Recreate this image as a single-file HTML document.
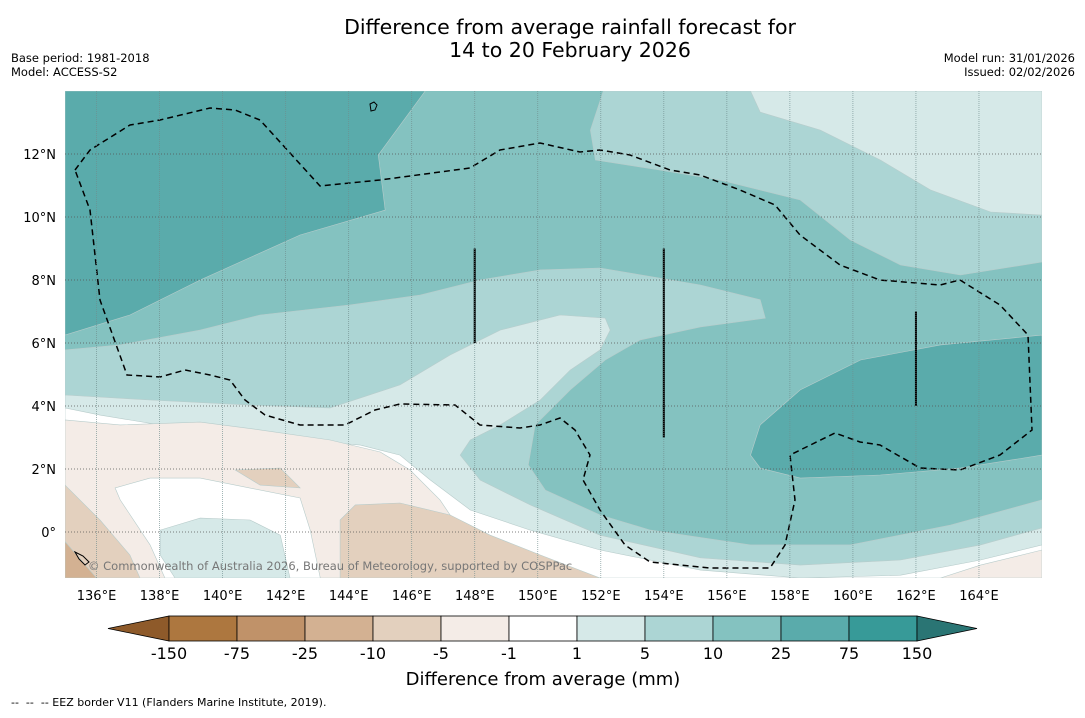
<!DOCTYPE html>
<html><head><meta charset="utf-8">
<style>
body{margin:0;background:#fff;width:1085px;height:713px;overflow:hidden;font-family:"Liberation Sans","DejaVu Sans",sans-serif}
svg text{font-family:"DejaVu Sans","Liberation Sans",sans-serif}
</style></head>
<body>
<svg id="chart" width="1085" height="713" viewBox="0 0 1085 713" xmlns="http://www.w3.org/2000/svg">
<text x="570" y="34" font-size="20.5" text-anchor="middle">Difference from average rainfall forecast for</text>
<text x="570" y="57" font-size="20.5" text-anchor="middle">14 to 20 February 2026</text>
<text x="11" y="62" font-size="11.5">Base period: 1981-2018</text>
<text x="11" y="76" font-size="11.5">Model: ACCESS-S2</text>
<text x="1075" y="62" font-size="11.5" text-anchor="end">Model run: 31/01/2026</text>
<text x="1075" y="76" font-size="11.5" text-anchor="end">Issued: 02/02/2026</text>
<defs><clipPath id="mapclip"><rect x="65" y="91" width="977" height="487"/></clipPath></defs>
<g id="fills" clip-path="url(#mapclip)"></g>
<g id="overlay" clip-path="url(#mapclip)">
<path fill="none" stroke="#000" stroke-width="1.5" stroke-dasharray="6,4"
d="M75,170 L90,150 L130,125 L160,120 L210,108 L235,110 L260,120 L320,186 L380,180 L470,168 L475,165 L500,150 L540,143 L580,152 L600,150 L630,155 L670,170 L700,175 L740,190 L775,205 L800,235 L840,265 L880,280 L940,285 L960,280 L1000,305 L1028,335 L1032,430 L1000,455 L960,470 L920,468 L880,445 L860,442 L835,433 L790,455 L795,500 L785,545 L770,568 L710,568 L650,562 L625,545 L600,510 L583,480 L590,455 L575,430 L560,418 L540,425 L520,428 L480,425 L455,405 L400,404 L375,410 L345,425 L300,425 L265,415 L245,400 L230,380 L210,375 L185,370 L160,377 L127,375 L100,300 L90,210 Z"/>
<path d="M370,104 l4,-2 l3,3 l-2,5 l-4,1 z" fill="none" stroke="#000" stroke-width="1"/>
<path d="M75,552 l8,4 l6,6 l-4,3 l-6,-6 z" fill="none" stroke="#000" stroke-width="1"/>
<text x="88" y="570" font-size="11.5" fill="#777">© Commonwealth of Australia 2026, Bureau of Meteorology, supported by COSPPac</text>
</g>
<g id="grid"></g>
<g id="axes"></g>
<g id="colorbar"></g>
<text x="543" y="685" font-size="18" text-anchor="middle">Difference from average (mm)</text>
<text x="11" y="706" font-size="11" xml:space="preserve" style="white-space:pre">--  --  -- EEZ border V11 (Flanders Marine Institute, 2019).</text>
</svg>
<script>
const lonTicks=[136,138,140,142,144,146,148,150,152,154,156,158,160,162,164];
const latTicks=[0,2,4,6,8,10,12];
const cbLevels=["-150","-75","-25","-10","-5","-1","1","5","10","25","75","150"];
const cbColors=["#ad773f","#c09269","#d3b192","#e3d0be","#f4ece7","#ffffff","#d6e9e8","#acd5d4","#84c2c0","#5aabab","#379a98"];
const cbExtLow="#8e5a2a", cbExtHigh="#2a7574";
const regionBase=[[135,14],[166,14],[166,-1.46],[135,-1.46]];
const regionA=[[135,14],[146.43,14],[144.94,11.97],[145.16,10.22],[142.46,9.43],[139.29,8.0],[137.06,6.89],[135,6.25]];
const regionB=[[152.08,14],[166,14],[166,8.57],[163.41,8.16],[161.51,8.48],[159.92,9.27],[158.33,10.54],[155.79,11.17],[153.89,11.49],[151.83,11.81],[151.67,12.76]];
const regionC=[[156.75,14],[166,14],[166,10.06],[164.37,10.16],[162.46,10.86],[160.87,11.81],[158.97,12.76],[157.06,13.33]];
const regionD=[[135,5.78],[136.75,5.94],[139.29,6.41],[141.19,6.89],[144.05,7.21],[146.27,7.52],[148.17,8.0],[150.08,8.32],[151.98,8.38],[155.16,7.84],[157.06,7.37],[157.22,6.79],[155.16,6.51],[153.25,6.1],[152.14,5.46],[151.03,4.51],[149.92,3.4],[149.7,2.13],[150.24,1.33],[151.98,0.54],[153.57,0.06],[156.75,-0.41],[159.92,-0.41],[163.1,0.22],[166,1.02],[166,-1.46],[135,-1.46]];
const regionI=[[156.75,2.44],[157.06,3.4],[158.33,4.51],[160.24,5.46],[162.78,5.94],[166,6.25],[166,2.44],[163.41,2.03],[160.87,1.81],[158.33,1.71],[157.06,2.03]];
const regionF=[[135,4.35],[137.7,4.19],[140.87,4.03],[143.41,3.94],[145.63,4.67],[147.22,5.62],[148.81,6.41],[150.71,6.89],[152.14,6.79],[152.3,6.41],[151.98,5.78],[151.03,5.14],[150.08,4.19],[148.81,3.4],[147.86,2.92],[147.54,2.44],[148.17,1.65],[149.76,0.86],[151.98,-0.1],[155.16,-0.82],[158.33,-1.05],[161.51,-0.89],[164.05,-0.41],[166,0.13],[166,-1.46],[135,-1.46]];
const regionG=[[135,3.94],[136.11,3.71],[138.02,3.4],[140.24,3.24],[142.46,2.92],[144.37,2.76],[145.63,2.44],[146.59,1.65],[147.86,0.7],[149.76,0.06],[151.98,-0.57],[155.16,-1.21],[158.33,-1.46],[161.51,-1.37],[164.05,-0.89],[166,-0.41],[166,-1.46],[135,-1.46]];
const regionH=[[135,3.56],[136.75,3.4],[139.29,3.49],[141.19,3.24],[143.41,2.92],[145,2.54],[145.95,1.97],[146.9,1.02],[147.54,0.06],[147.86,-1.46],[135,-1.46]];
const regionWhite=[[136.59,1.4],[137.7,1.71],[139.29,1.71],[142.46,1.08],[142.78,0.06],[143.1,-1.46],[138.17,-1.46],[137.7,-0.41],[136.75,1.02]];
const regionLight=[[138.02,0.06],[139.29,0.44],[140.87,0.38],[141.83,-0.1],[142.14,-1.46],[138.49,-1.46],[138.02,-0.73]];
const regionP1=[[140.4,1.97],[141.83,2.03],[142.46,1.4],[141.19,1.49]];
const regionP2=[[143.73,0.38],[144.21,0.86],[145.63,0.92],[147.22,0.54],[148.49,-0.1],[150.08,-0.73],[151.98,-1.46],[143.73,-1.46]];
const regionBL=[[135,1.49],[136.11,0.38],[137.06,-0.73],[137.38,-1.46],[135,-1.46]];
const regionBL2=[[135,-0.3],[136.0,-1.46],[135,-1.46]];
const regionBR=[[166,-0.57],[164.05,-1.05],[162.78,-1.46],[166,-1.46]];
const regionNames=["base","top-left-wet","top-right-moist","top-right-light","central-band","east-wet-core","light-band","neutral-band","south-dry","west-neutral-patch","west-light-patch","dry-patch-1","dry-patch-2","southwest-dry","southwest-drier","southeast-dry"];
const regionList=[regionBase,regionA,regionB,regionC,regionD,regionI,regionF,regionG,regionH,regionWhite,regionLight,regionP1,regionP2,regionBL,regionBL2,regionBR];
const regionColor=[8,9,7,6,7,9,6,5,4,5,6,3,3,3,2,4];
const verticalBars=[[148,6,9],[154,3,9],[162,4,7]];

const X0=65,X1=1042,Y0=91,Y1=578,LON0=135,LON1=166,LAT0=14,LAT1=-1.46;
const px=lon=>X0+(lon-LON0)*(X1-X0)/(LON1-LON0);
const py=lat=>Y0+(LAT0-lat)*(Y1-Y0)/(LAT0-LAT1);
const NS="http://www.w3.org/2000/svg";
function mk(t,a,parent){const e=document.createElementNS(NS,t);for(const k in a)e.setAttribute(k,a[k]);parent.appendChild(e);return e;}

const fills=document.getElementById('fills');
regionList.forEach((r,i)=>{
  const p=mk('polygon',{points:r.map(c=>px(c[0]).toFixed(1)+','+py(c[1]).toFixed(1)).join(' '),fill:cbColors[regionColor[i]],stroke:i===0?'none':'#b8cccb','stroke-width':0.6},fills);
  
  
});
const ov=document.getElementById('overlay');
verticalBars.forEach(b=>{
  const l=mk('line',{x1:px(b[0]),x2:px(b[0]),y1:py(b[2]),y2:py(b[1]),stroke:'#000','stroke-width':2},ov);
  
  
});
const grid=document.getElementById('grid');
lonTicks.forEach(v=>{
  const l=mk('line',{x1:px(v),x2:px(v),y1:Y0,y2:Y1,stroke:'#6f8c8c','stroke-width':0.8,'stroke-dasharray':'1,1','stroke-opacity':0.8},grid);
  
  
});
latTicks.forEach(v=>{
  const l=mk('line',{x1:X0,x2:X1,y1:py(v),y2:py(v),stroke:'#555','stroke-width':0.8,'stroke-dasharray':'1,2'},grid);
  
  
});
const axes=document.getElementById('axes');
lonTicks.forEach(v=>{
  const t=mk('text',{x:px(v),y:600,'font-size':13,'text-anchor':'middle'},axes);
  t.textContent=v+'°E';
  
  
});
latTicks.forEach(v=>{
  const t=mk('text',{x:56,y:py(v)+5,'font-size':13,'text-anchor':'end'},axes);
  t.textContent=v===0?'0°':v+'°N';
  
  
});
const cb=document.getElementById('colorbar');
const CB0=169,CBW=68,CBY=616,CBH=25;
const lo=mk('polygon',{points:`108,${CBY+CBH/2} ${CB0},${CBY} ${CB0},${CBY+CBH}`,fill:cbExtLow,stroke:'#000','stroke-width':0.8},cb);


cbColors.forEach((c,i)=>{
  const r=mk('rect',{x:CB0+i*CBW,y:CBY,width:CBW,height:CBH,fill:c,stroke:'#000','stroke-width':0.8},cb);
  
  
});
const endX=CB0+cbColors.length*CBW;
const hi=mk('polygon',{points:`${endX},${CBY} ${endX+60},${CBY+CBH/2} ${endX},${CBY+CBH}`,fill:cbExtHigh,stroke:'#000','stroke-width':0.8},cb);


cbLevels.forEach((s,i)=>{
  const t=mk('text',{x:CB0+i*CBW,y:659,'font-size':16,'text-anchor':'middle'},cb);
  t.textContent=s;
  
  
});
</script>
</body></html>
